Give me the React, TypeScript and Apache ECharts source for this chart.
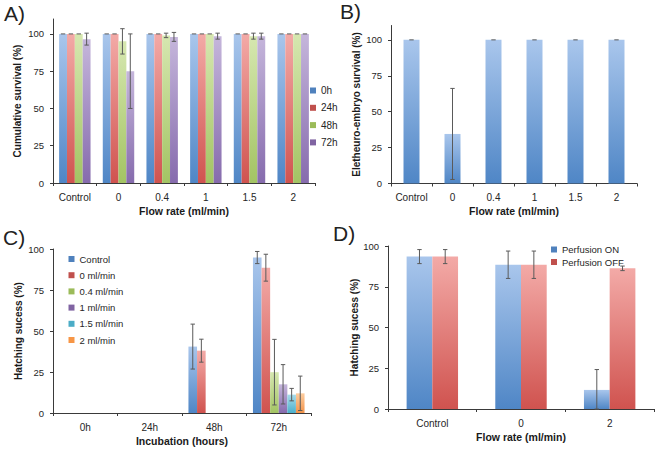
import React, { useEffect, useRef } from "react";
import * as echarts from "echarts";

// ---------- Data ----------
const flowCats = ["Control", "0", "0.4", "1", "1.5", "2"];
const hoursA = ["0h", "24h", "48h", "72h"];
const survA0h = [100, 100, 100, 100, 100, 100];
const survA24h = [100, 100, 100, 100, 100, 100];
const survA48h = [100, 95, 99, 100, 98.5, 100];
const survA72h = [96.5, 75, 98, 98.5, 98.5, 100];
const errA0h = [0, 0, 0, 0, 0, 0];
const errA24h = [0, 0, 0, 0, 0, 0];
const errA48h = [0, 8.5, 1.5, 0, 2, 0];
const errA72h = [4, 25, 3, 2, 2, 0];

const embryoSurvival = [100, 34.5, 100, 100, 100, 100];
const embryoErr = [0, 31.7, 0, 0, 0, 0];

const incubationCats = ["0h", "24h", "48h", "72h"];
const flowSeriesC = ["Control", "0 ml/min", "0.4 ml/min", "1 ml/min", "1.5 ml/min", "2 ml/min"];
const hatchControl = [0, 0, 40.5, 94.8];
const hatch0 = [0, 0, 38, 88.6];
const hatch04 = [0, 0, 0, 24.9];
const hatch1 = [0, 0, 0, 17.5];
const hatch15 = [0, 0, 0, 11.2];
const hatch2 = [0, 0, 0, 12];
const errControl = [0, 0, 13.7, 3.7];
const err0 = [0, 0, 7, 8.2];
const err04 = [0, 0, 0, 20];
const err1 = [0, 0, 0, 12];
const err15 = [0, 0, 0, 3.8];
const err2 = [0, 0, 0, 10.5];

const perfusionCats = ["Control", "0", "2"];
const perfusionNames = ["Perfusion ON", "Perfusion OFF"];
const perfOn = [93.5, 88.5, 11.7];
const perfOnErr = [4.3, 8.4, 12.5];
const perfOff = [93.5, 88.5, 86.3];
const perfOffErr = [4.3, 8.4, 1.4];

// ---------- Styles ----------
const FONT = "'Liberation Sans', Arial, sans-serif";
const TXT = "#262626";
const AXIS = "#3a3a3a";
const PAL = {
  blue: ["#a9c6ec", "#4f86c6", "#4f81bd"],
  red: ["#f3aaa7", "#d0534f", "#c0504d"],
  green: ["#d6e7b0", "#a3c463", "#9bbb59"],
  purple: ["#c5b6db", "#866bad", "#8064a2"],
  cyan: ["#a8dceb", "#4cb0cc", "#4bacc6"],
  orange: ["#fccda0", "#f4944a", "#f79646"],
};
const grad = (p: string[]) =>
  new echarts.graphic.LinearGradient(0, 0, 0, 1, [
    { offset: 0, color: p[0] },
    { offset: 1, color: p[1] },
  ]);

function makeErrRender(idxInGroup: number, nSeries: number, gap: number, capHalf: number) {
  return (params: any, api: any) => {
    const ci = api.value(0);
    const v = api.value(1);
    const e = api.value(2);
    if (!(v > 0)) return null;
    const bw = api.size([1, 0])[0];
    const group = bw * (1 - gap);
    const barW = group / nSeries;
    const c = api.coord([ci, v]);
    const x = c[0] - group / 2 + (idxInGroup + 0.5) * barW;
    const yT = api.coord([ci, v + e])[1];
    const yB = api.coord([ci, Math.max(v - e, 0)])[1];
    const st = { stroke: "#5a5a5a", lineWidth: 1 };
    const children: any[] = [
      { type: "line", shape: { x1: x - capHalf, y1: yT, x2: x + capHalf, y2: yT }, style: st },
    ];
    if (e > 0) {
      children.push({ type: "line", shape: { x1: x, y1: yT, x2: x, y2: yB }, style: st });
      children.push({ type: "line", shape: { x1: x - capHalf, y1: yB, x2: x + capHalf, y2: yB }, style: st });
    }
    return { type: "group", children };
  };
}

function barPair(
  name: string,
  gi: number,
  values: number[],
  errs: number[],
  pal: string[],
  idx: number,
  n: number,
  gap: number,
  capHalf: number
) {
  return [
    {
      type: "bar",
      name,
      xAxisIndex: gi,
      yAxisIndex: gi,
      data: values,
      barGap: "0%",
      barCategoryGap: Math.round(gap * 100) + "%",
      itemStyle: { color: grad(pal) },
      silent: true,
    },
    {
      type: "custom",
      name: name + "__err",
      xAxisIndex: gi,
      yAxisIndex: gi,
      data: values.map((v, i) => [i, v, errs[i]]),
      encode: { x: 0, y: 1 },
      renderItem: makeErrRender(idx, n, gap, capHalf),
      z: 5,
      silent: true,
    },
  ];
}

function xAx(gi: number, data: string[], name: string, nameGap: number, margin: number) {
  return {
    type: "category",
    gridIndex: gi,
    data,
    axisLine: { show: true, lineStyle: { color: AXIS, width: 1 } },
    axisTick: { show: true, length: 3, interval: 0, lineStyle: { color: AXIS } },
    axisLabel: { fontSize: 10, color: TXT, margin, fontFamily: FONT, interval: 0 },
    name,
    nameLocation: "middle",
    nameGap,
    nameTextStyle: { fontSize: 10.5, fontWeight: "bold", color: "#1a1a1a", fontFamily: FONT },
  };
}

function yAx(gi: number, max: number, name: string, nameGap: number) {
  return {
    type: "value",
    gridIndex: gi,
    min: 0,
    max,
    interval: 25,
    axisLine: { show: true, lineStyle: { color: AXIS, width: 1 } },
    axisTick: { show: true, length: 3, lineStyle: { color: AXIS } },
    splitLine: { show: false },
    axisLabel: { fontSize: 9.5, color: TXT, margin: 9, fontFamily: FONT, showMaxLabel: max === 100 },
    name,
    nameLocation: "middle",
    nameGap,
    nameTextStyle: { fontSize: 10, fontWeight: "bold", color: "#1a1a1a", fontFamily: FONT },
  };
}

export default function App() {
  const ref = useRef<HTMLDivElement>(null);
  useEffect(() => {
    if (!ref.current) return;
    const chart = echarts.init(ref.current, undefined, { renderer: "svg" });
    const gapA = 0.28, gapB = 0.61, gapC = 0.2, gapD = 0.42;
    const aVals = [survA0h, survA24h, survA48h, survA72h];
    const aErrs = [errA0h, errA24h, errA48h, errA72h];
    const aPal = [PAL.blue, PAL.red, PAL.green, PAL.purple];
    const cVals = [hatchControl, hatch0, hatch04, hatch1, hatch15, hatch2];
    const cErrs = [errControl, err0, err04, err1, err15, err2];
    const cPal = [PAL.blue, PAL.red, PAL.green, PAL.purple, PAL.cyan, PAL.orange];
    const dVals = [perfOn, perfOff];
    const dErrs = [perfOnErr, perfOffErr];
    const dPal = [PAL.blue, PAL.red];

    const series: any[] = [];
    hoursA.forEach((h, i) => series.push(...barPair(h, 0, aVals[i], aErrs[i], aPal[i], i, 4, gapA, 2.2)));
    series.push(...barPair("Eletheuro-embryo survival", 1, embryoSurvival, embryoErr, PAL.blue, 0, 1, gapB, 2.2));
    flowSeriesC.forEach((f, i) => series.push(...barPair(f, 2, cVals[i], cErrs[i], cPal[i], i, 6, gapC, 2.2)));
    perfusionNames.forEach((p, i) => series.push(...barPair(p, 3, dVals[i], dErrs[i], dPal[i], i, 2, gapD, 2.2)));

    const legendBase = {
      orient: "vertical",
      icon: "rect",
      itemWidth: 6,
      itemHeight: 6,
      padding: 0,
      selectedMode: false,
    };

    chart.setOption({
      animation: false,
      textStyle: { fontFamily: FONT },
      grid: [
        { left: 53, top: 19, width: 262, height: 164 },
        { left: 391, top: 25.5, width: 246, height: 158 },
        { left: 53, top: 249, width: 258, height: 164 },
        { left: 388, top: 246, width: 266, height: 163 },
      ],
      xAxis: [
        xAx(0, flowCats, "Flow rate (ml/min)", 22, 9),
        xAx(1, flowCats, "Flow rate (ml/min)", 22, 9),
        xAx(2, incubationCats, "Incubation (hours)", 22, 9),
        xAx(3, perfusionCats, "Flow rate (ml/min)", 22, 9),
      ],
      yAxis: [
        yAx(0, 110, "Cumulative survival (%)", 31),
        yAx(1, 110, "Eletheuro-embryo survival (%)", 30),
        yAx(2, 100, "Hatching sucess (%)", 30),
        yAx(3, 100, "Hatching sucess (%)", 27),
      ],
      legend: [
        {
          ...legendBase,
          left: 310,
          top: 84.5,
          itemGap: 5.3,
          textStyle: { fontSize: 10, lineHeight: 12, color: TXT, fontFamily: FONT },
          data: hoursA.map((h, i) => ({ name: h, itemStyle: { color: aPal[i][2] } })),
        },
        {
          ...legendBase,
          left: 68.5,
          top: 253,
          itemGap: 4.2,
          textStyle: { fontSize: 9.5, lineHeight: 12, color: TXT, fontFamily: FONT },
          data: flowSeriesC.map((f, i) => ({ name: f, itemStyle: { color: cPal[i][2] } })),
        },
        {
          ...legendBase,
          left: 551,
          top: 244,
          itemGap: 1.5,
          textStyle: { fontSize: 9.5, lineHeight: 11, color: TXT, fontFamily: FONT },
          data: perfusionNames.map((p, i) => ({ name: p, itemStyle: { color: dPal[i][2] } })),
        },
      ],
      graphic: [
        { type: "text", left: 4, top: 3, style: { text: "A)", fontSize: 21, fill: "#222", fontFamily: FONT } },
        { type: "text", left: 340, top: 1, style: { text: "B)", fontSize: 21, fill: "#222", fontFamily: FONT } },
        { type: "text", left: 3, top: 227, style: { text: "C)", fontSize: 21, fill: "#222", fontFamily: FONT } },
        { type: "text", left: 333, top: 223, style: { text: "D)", fontSize: 21, fill: "#222", fontFamily: FONT } },
      ],
      series,
    });
    return () => chart.dispose();
  }, []);
  return (
    <div
      ref={ref}
      style={{ position: "absolute", left: 0, top: 0, width: 662, height: 449, background: "#fff" }}
    />
  );
}
